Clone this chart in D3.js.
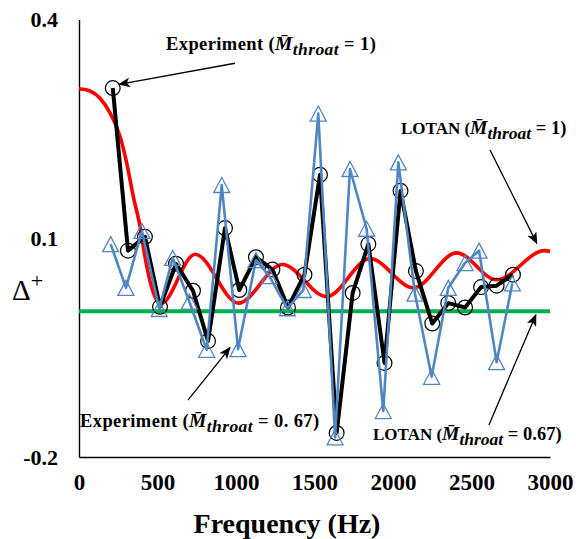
<!DOCTYPE html>
<html>
<head>
<meta charset="utf-8">
<script src="https://cdn.jsdelivr.net/npm/d3@7"></script>
<style>
  body { margin: 0; background: #fff; }
  svg { display: block; }
</style>
</head>
<body>
<svg id="chart" width="576" height="539"></svg>
<script>
// Experiment, throat Mach number 1 (circles)
const expM1Freq  = [215, 312, 420, 516, 618, 726, 822, 930, 1021, 1127, 1232, 1331, 1436, 1535, 1641, 1743, 1843, 1946, 2048, 2146, 2250, 2352, 2459, 2561, 2660, 2764];
const expM1Delta = [0.306, 0.083, 0.102, 0.006, 0.065, 0.028, -0.041, 0.114, 0.029, 0.074, 0.057, 0.005, 0.050, 0.187, -0.167, 0.025, 0.092, -0.071, 0.165, 0.055, -0.017, 0.011, 0.005, 0.033, 0.035, 0.050];

// Experiment, throat Mach number 0.67 (triangles)
const exp067Freq  = [202, 299, 401, 511, 597, 703, 813, 909, 1013, 1127, 1212, 1327, 1429, 1524, 1631, 1726, 1832, 1938, 2034, 2140, 2246, 2352, 2459, 2548, 2660, 2760];
const exp067Delta = [0.092, 0.032, 0.110, 0.003, 0.073, 0.013, -0.053, 0.173, -0.052, 0.070, 0.048, 0.004, 0.029, 0.271, -0.173, 0.195, 0.113, -0.137, 0.204, 0.024, -0.090, 0.032, 0.066, 0.083, -0.070, 0.038];

// LOTAN prediction, throat Mach number 1
const lotanM1Freq  = [0, 70, 197, 261, 304, 346, 389, 420, 460, 520, 740, 1015, 1295, 1577, 1854, 2130, 2405, 2660, 2965, 3000];
const lotanM1Delta = [0.305, 0.302, 0.272, 0.240, 0.203, 0.157, 0.116, 0.075, 0.035, 0.010, 0.078, 0.011, 0.064, 0.020, 0.072, 0.032, 0.080, 0.043, 0.083, 0.082];

// LOTAN prediction, throat Mach number 0.67
const lotan067Freq  = [0, 3000];
const lotan067Delta = [0, 0];

// Axis ticks
const xTicks = [0, 500, 1000, 1500, 2000, 2500, 3000];
const yTicks = [-0.2, 0.1, 0.4];

const zip = (xs, ys) => xs.map((f, i) => ({ f, v: ys[i] }));
const expM1   = zip(expM1Freq, expM1Delta);
const exp067  = zip(exp067Freq, exp067Delta);
const lotanM1 = zip(lotanM1Freq, lotanM1Delta);
const lotan067 = zip(lotan067Freq, lotan067Delta);

const svg = d3.select('#chart');
const serif = '"Liberation Serif", "Times New Roman", serif';

const x = d3.scaleLinear().domain([0, 3000]).range([79, 550]);
const y = d3.scaleLinear().domain([-0.2, 0.4]).range([457, 19.5]);

// Axes (plain hyphen for negative values)
const xAxis = d3.axisBottom(x).tickValues(xTicks).tickSize(0).tickFormat(d3.format('d'));
const yAxis = d3.axisLeft(y).tickValues(yTicks).tickSize(0)
  .tickFormat(d => (d < 0 ? '-' : '') + Math.abs(d).toFixed(1));

const gx = svg.append('g').attr('transform', `translate(0,${y(-0.2)})`).call(xAxis);
gx.select('.domain').attr('stroke', '#000').attr('stroke-width', 1.4);
gx.selectAll('text')
  .attr('y', 17).attr('dy', '0.71em')
  .attr('font-family', serif).attr('font-weight', 'bold').attr('font-size', 23).attr('fill', '#000');

const gy = svg.append('g').attr('transform', `translate(${x(0)},0)`).call(yAxis);
gy.select('.domain').attr('stroke', '#000').attr('stroke-width', 1.4);
gy.selectAll('text')
  .attr('x', -21).attr('dy', '0.32em')
  .attr('font-family', serif).attr('font-weight', 'bold').attr('font-size', 22).attr('fill', '#000');

// Axis titles
svg.append('text')
  .attr('x', 287).attr('y', 533).attr('text-anchor', 'middle')
  .attr('font-family', serif).attr('font-weight', 'bold').attr('font-size', 28)
  .text('Frequency (Hz)');

const yTitle = svg.append('text')
  .attr('x', 12).attr('y', 300)
  .attr('font-family', serif).attr('font-size', 29);
yTitle.append('tspan').text('\u0394');
yTitle.append('tspan').attr('font-size', 22).attr('dy', -12).text('+');

const line = d3.line().x(d => x(d.f)).y(d => y(d.v));
const smooth = d3.line().x(d => x(d.f)).y(d => y(d.v)).curve(d3.curveMonotoneX);

// LOTAN curves
svg.append('path').datum(lotanM1)
  .attr('d', smooth).attr('fill', 'none').attr('stroke', '#ff0000').attr('stroke-width', 3.6);
svg.append('path').datum(lotan067)
  .attr('d', line).attr('fill', 'none').attr('stroke', '#00b050').attr('stroke-width', 4);

// Experiment M=1
svg.append('path').datum(expM1)
  .attr('d', line).attr('fill', 'none').attr('stroke', '#000').attr('stroke-width', 4)
  .attr('stroke-linejoin', 'round');
svg.append('g').selectAll('circle').data(expM1).join('circle')
  .attr('cx', d => x(d.f)).attr('cy', d => y(d.v)).attr('r', 7.4)
  .attr('fill', 'none').attr('stroke', '#000').attr('stroke-width', 1.2);

// Experiment M=0.67
const blue = '#4f86c2';
svg.append('path').datum(exp067)
  .attr('d', line).attr('fill', 'none').attr('stroke', blue).attr('stroke-width', 2.6)
  .attr('stroke-linejoin', 'round');
svg.append('g').selectAll('path').data(exp067).join('path')
  .attr('d', 'M0,-7.5L8,7.5L-8,7.5Z')
  .attr('transform', d => `translate(${x(d.f)},${y(d.v)})`)
  .attr('fill', 'none').attr('stroke', blue).attr('stroke-width', 1.3);

// Arrowhead marker for annotations
svg.append('defs').append('marker')
  .attr('id', 'arrow').attr('viewBox', '0 0 12 10')
  .attr('refX', 11).attr('refY', 5)
  .attr('markerWidth', 12).attr('markerHeight', 10)
  .attr('markerUnits', 'userSpaceOnUse').attr('orient', 'auto')
  .append('path').attr('d', 'M0,0L12,5L0,10L3,5Z').attr('fill', '#000');

const arrows = [
  { from: [994, 0.340],  to: [255, 0.311] },
  { from: [2618, 0.221], to: [2916, 0.093] },
  { from: [694, -0.122], to: [962, -0.050] },
  { from: [2611, -0.156], to: [2910, -0.005] }
];
svg.append('g').selectAll('line').data(arrows).join('line')
  .attr('x1', d => x(d.from[0])).attr('y1', d => y(d.from[1]))
  .attr('x2', d => x(d.to[0])).attr('y2', d => y(d.to[1]))
  .attr('stroke', '#000').attr('stroke-width', 1.3)
  .attr('marker-end', 'url(#arrow)');

// Annotation labels with the throat Mach number
function machLabel(px, py, prefix, suffix, size, spacing) {
  const t = svg.append('text')
    .attr('x', px).attr('y', py)
    .attr('font-family', serif).attr('font-weight', 'bold').attr('font-size', size)
    .attr('letter-spacing', spacing);
  t.append('tspan').text(prefix);
  t.append('tspan').attr('font-style', 'italic').attr('font-size', 19.5).text('M\u0304');
  t.append('tspan').attr('font-style', 'italic').attr('font-size', 17.5).attr('dy', 5).text('throat');
  t.append('tspan').attr('font-size', 18.5).attr('dy', -5).text(suffix);
}
machLabel(166, 50, 'Experiment (', ' = 1)', 18.5, 0.4);
machLabel(401, 134, 'LOTAN (', ' = 1)', 17, 0);
machLabel(80, 427, 'Experiment (', ' = 0. 67)', 18.5, 0.4);
machLabel(373, 440, 'LOTAN (', ' = 0.67)', 17, 0);
</script>
</body>
</html>
